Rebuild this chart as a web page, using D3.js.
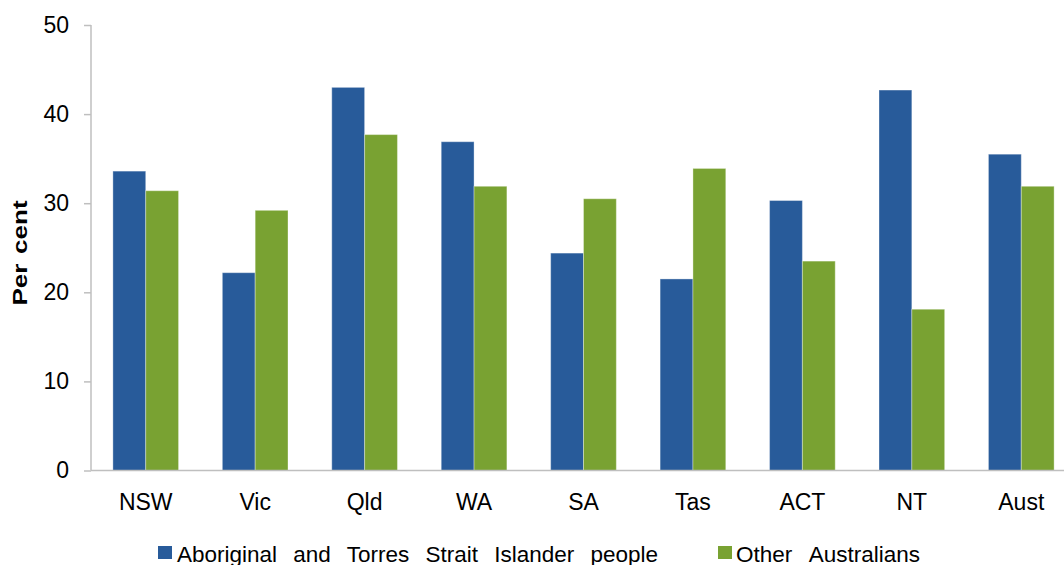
<!DOCTYPE html>
<html>
<head>
<meta charset="utf-8">
<script src="https://cdn.jsdelivr.net/npm/d3@7/dist/d3.min.js"></script>
<style>
  html, body { margin: 0; padding: 0; background: #fff; }
  svg { display: block; font-family: "Liberation Sans", Arial, sans-serif; }
</style>
</head>
<body>
<svg id="chart" width="1064" height="565"></svg>
<script>
// Jurisdictions along the x axis
const categories = ["NSW", "Vic", "Qld", "WA", "SA", "Tas", "ACT", "NT", "Aust"];
// Per cent values for each series
const indigenous = [33.6, 22.2, 43.0, 36.9, 24.4, 21.5, 30.3, 42.7, 35.5];
const otherAustralians = [31.4, 29.2, 37.7, 31.9, 30.5, 33.9, 23.5, 18.1, 31.9];
const seriesNames = ["Aboriginal and Torres Strait Islander people", "Other Australians"];
const yTicks = [0, 10, 20, 30, 40, 50];

const colors = ["#285B9A", "#79A232"];
const series = [indigenous, otherAustralians];

const svg = d3.select("#chart");
const axisColor = "#BFBFBF";

const x0 = d3.scaleBand()
  .domain(categories)
  .range([91, 1076])
  .paddingInner(0.4)
  .paddingOuter(0.2);

const x1 = d3.scaleBand()
  .domain(d3.range(series.length))
  .range([0, x0.bandwidth()]);

const y = d3.scaleLinear().domain([0, 50]).range([470.5, 25]);

// Bars
const groups = svg.append("g")
  .selectAll("g")
  .data(categories)
  .join("g")
  .attr("transform", d => `translate(${x0(d)},0)`);

groups.selectAll("rect")
  .data((d, i) => series.map((s, k) => ({ k, v: s[i] })))
  .join("rect")
  .attr("x", d => x1(d.k))
  .attr("y", d => y(d.v))
  .attr("width", x1.bandwidth())
  .attr("height", d => y(0) - y(d.v))
  .attr("fill", d => colors[d.k])
  .attr("stroke", "rgba(255,255,255,0.35)")
  .attr("stroke-width", 1);

// Y axis
const yAxis = svg.append("g")
  .attr("transform", "translate(91,0)")
  .call(d3.axisLeft(y).tickValues(yTicks).tickSize(7).tickPadding(15).tickFormat(d3.format("d")));
yAxis.select(".domain").attr("stroke", axisColor).attr("stroke-width", 1.5).attr("d", `M0,${y(50)}V${y(0)}`);
yAxis.selectAll(".tick line").attr("stroke", axisColor).attr("stroke-width", 1.5);
yAxis.selectAll(".tick text")
  .attr("font-size", 23)
  .attr("fill", "#000")
  .attr("font-family", "Liberation Sans, Arial, sans-serif");

// X axis
const xAxis = svg.append("g")
  .attr("transform", `translate(0,${y(0)})`)
  .call(d3.axisBottom(x0).tickSize(0).tickPadding(23));
xAxis.select(".domain").attr("stroke", axisColor).attr("stroke-width", 1.5).attr("d", "M91,0H1064");
xAxis.selectAll(".tick text")
  .attr("font-size", 23)
  .attr("fill", "#000")
  .attr("font-family", "Liberation Sans, Arial, sans-serif");

// Y axis title, widened along its reading direction
svg.append("text")
  .attr("transform", "translate(27,253) rotate(-90) scale(1.24,1)")
  .attr("text-anchor", "middle")
  .attr("font-size", 21)
  .attr("font-weight", "bold")
  .attr("word-spacing", 2)
  .text("Per cent");

// Legend
const legendItems = [
  { name: seriesNames[0], color: colors[0], box: 158, text: 177, width: 481 },
  { name: seriesNames[1], color: colors[1], box: 718, text: 736, width: 184 }
];
const legend = svg.append("g");
legendItems.forEach(item => {
  legend.append("rect")
    .attr("x", item.box).attr("y", 546)
    .attr("width", 14).attr("height", 13)
    .attr("fill", item.color);
  const t = legend.append("text")
    .attr("x", item.text).attr("y", 561.5)
    .attr("font-size", 22.5)
    .attr("fill", "#000")
    .text(item.name);
  const gaps = item.name.split(" ").length - 1;
  const len = t.node().getComputedTextLength();
  if (gaps > 0 && len < item.width) {
    t.attr("word-spacing", (item.width - len) / gaps);
  }
});
</script>
</body>
</html>
